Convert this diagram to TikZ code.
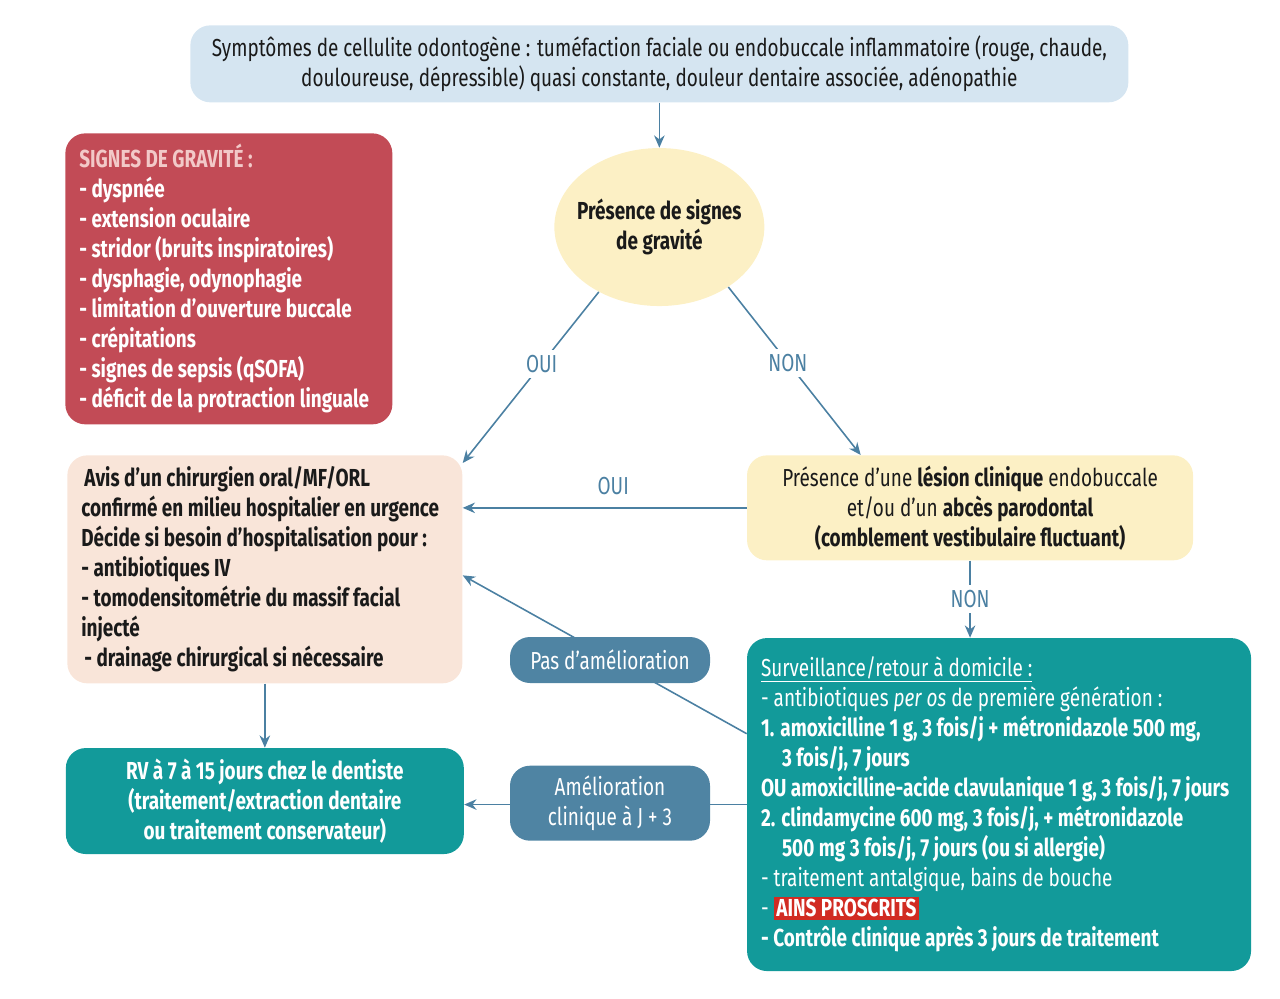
\documentclass[tikz,border=0pt]{standalone}
\usepackage{fontspec}
\setmainfont{Fira Sans}[FakeStretch=0.77]
\usepackage{tikz}
\usetikzlibrary{arrows.meta,positioning,shapes.geometric}
\definecolor{symbg}{HTML}{D5E5F1}
\definecolor{jaune}{HTML}{FCF0C5}
\definecolor{gravred}{HTML}{C24B56}
\definecolor{gravpink}{HTML}{F2C9C8}
\definecolor{avisbg}{HTML}{F9E5D9}
\definecolor{sarcelle}{HTML}{129A9A}
\definecolor{acier}{HTML}{4F84A3}
\definecolor{fleche}{HTML}{4B80A2}
\definecolor{ainsred}{HTML}{D12B22}
\definecolor{encre}{HTML}{1A1A1A}
\newcommand{\taille}{\fontsize{14}{17.07}\selectfont}
\newcommand{\espaces}{\spaceskip=0pt\xspaceskip=0pt\relax}

\begin{document}
\begin{tikzpicture}[>={Stealth[length=7pt,width=6pt]},font=\taille,text=encre,
  box/.style={rectangle,rounded corners=0.4cm,inner xsep=0.28cm,inner ysep=0.15cm,anchor=north west},
  pill/.style={rectangle,rounded corners=0.4cm,fill=acier,text=white,align=center},
  lien/.style={->,draw=fleche,line width=0.9pt},
  rep/.style={text=fleche,fill=white,inner sep=3pt}]
\useasboundingbox (0,0) rectangle (25.6,-19.98);

\node (symp) [box,fill=symbg,minimum width=18.76cm,minimum height=1.54cm,align=center] at (3.8,-0.5) {Symptômes de cellulite odontogène : tuméfaction faciale ou endobuccale inflammatoire (rouge, chaude,\\ douloureuse, dépressible) quasi constante, douleur dentaire associée, adénopathie};
\node (grav) [ellipse,fill=jaune,inner sep=0pt,minimum width=4.2cm,minimum height=3.16cm,align=center,font=\taille\bfseries,below=0.9cm of symp] {\makebox[2.8cm]{Présence de signes}\\\makebox[2.8cm]{de gravité}};

\node (signes) [box,fill=gravred,text=white,minimum width=6.54cm,minimum height=5.82cm,text width=5.98cm,align=left,font=\taille\bfseries] at (1.3,-2.66) {\espaces\textcolor{gravpink}{SIGNES DE GRAVITÉ :}\\- dyspnée\\- extension oculaire\\- stridor (bruits inspiratoires)\\- dysphagie, odynophagie\\- limitation d’ouverture buccale\\- crépitations\\- signes de sepsis (qSOFA)\\- déficit de la protraction linguale};

\node (avis) [box,fill=avisbg,minimum width=7.9cm,minimum height=4.56cm,text width=7.34cm,align=left,font=\taille\bfseries] at (1.34,-9.1) {\espaces\hspace*{0.06cm}Avis d’un chirurgien oral/MF/ORL\\confirmé en milieu hospitalier en urgence\\Décide si besoin d’hospitalisation pour :\\- antibiotiques IV\\- tomodensitométrie du massif facial\\injecté\\\hspace*{0.06cm}- drainage chirurgical si nécessaire};
\node (lesion) [box,fill=jaune,minimum width=8.92cm,minimum height=2.1cm,align=center,right=5.68cm of avis.north east,anchor=north west] {Présence d’une \textbf{lésion clinique} endobuccale\\et/ou d’un \textbf{abcès parodontal}\\\textbf{(comblement vestibulaire fluctuant)}};

\node (surv) [box,fill=sarcelle,text=white,minimum width=10.08cm,minimum height=6.66cm,text width=9.76cm,inner xsep=0.16cm,align=left,below=1.54cm of lesion.south west,anchor=north west] {\espaces\hspace*{0.12cm}\underline{Surveillance/retour à domicile :}\\\hspace*{0.12cm}- antibiotiques \textit{per os} de première génération :\\\hspace*{0.12cm}\textbf{1. amoxicilline 1 g, 3 fois/j + métronidazole 500 mg,}\\\hspace*{0.54cm}\textbf{3 fois/j, 7 jours}\\\hspace*{0.12cm}\textbf{OU amoxicilline-acide clavulanique 1 g, 3 fois/j, 7 jours}\\\hspace*{0.12cm}\textbf{2. clindamycine 600 mg, 3 fois/j, + métronidazole}\\\hspace*{0.54cm}\textbf{500 mg 3 fois/j, 7 jours (ou si allergie)}\\\hspace*{0.12cm}- traitement antalgique, bains de bouche\\\hspace*{0.12cm}- {\setlength{\fboxsep}{1.5pt}\colorbox{ainsred}{\textbf{AINS PROSCRITS}}}\\\hspace*{0.12cm}\textbf{- Contrôle clinique après 3 jours de traitement}};

\node (rv) [box,fill=sarcelle,text=white,minimum width=7.96cm,minimum height=2.12cm,align=center,font=\taille\bfseries,below=1.28cm of avis,anchor=north] {RV à 7 à 15 jours chez le dentiste\\(traitement/extraction dentaire\\ou traitement conservateur)};

\draw[lien] (symp) -- (grav);
\draw[lien] (grav.-133) -- node[rep,pos=0.42]{OUI} ([yshift=-0.16cm]avis.north east);
\draw[lien] (grav.-41) -- node[rep,pos=0.45]{NON} ([xshift=2.28cm]lesion.north west);
\draw[lien] (lesion.west) -- node[above=0.12cm,text=fleche,pos=0.47]{OUI} (lesion.west -| avis.east);
\draw[lien] (lesion.south) -- node[rep]{NON} (surv.north -| lesion.south);
\draw[lien] ([yshift=-1.92cm]surv.north west) -- ([yshift=-0.12cm]avis.east);
\draw[lien] (surv.west) -- (surv.west -| rv.east);
\draw[lien] (avis.south) -- (rv.north);

\node (pas) [pill,minimum width=4cm,minimum height=0.92cm] at (12.2,-13.2) {Pas d’amélioration};
\node (amel) [pill,minimum width=4cm,minimum height=1.5cm,below=1.64cm of pas] {Amélioration\\clinique à J + 3};
\end{tikzpicture}
\end{document}
